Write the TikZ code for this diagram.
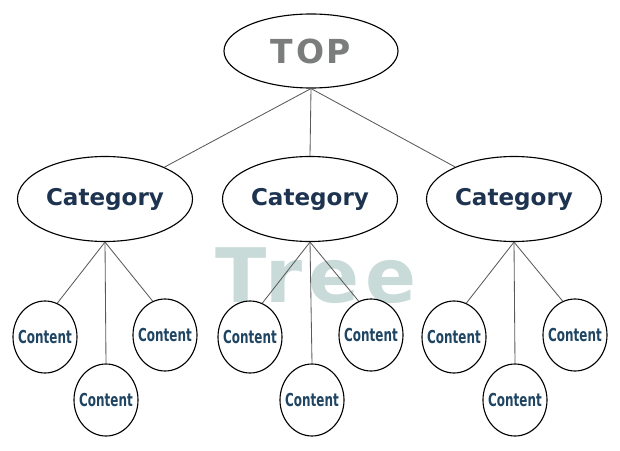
\documentclass[tikz,border=0pt]{standalone}
\usepackage{fontspec}
\usetikzlibrary{shapes.geometric}
\setmainfont{DejaVu Sans}
\newfontfamily\spacedfont{DejaVu Sans}[LetterSpace=8]
\newfontfamily\narrowfont{DejaVu Sans}[FakeStretch=0.67]
\definecolor{topgray}{HTML}{7A7D7B}
\definecolor{catnavy}{HTML}{1D3350}
\definecolor{cntnavy}{HTML}{1F4563}
\definecolor{treetint}{HTML}{C9DBD9}
\definecolor{linkgray}{HTML}{5A5A5A}
\begin{document}
\begin{tikzpicture}[
        every node/.style={font=\bfseries},
        topnode/.style={ellipse, draw=black, line width=0.8pt, inner sep=0pt, minimum width=4.35cm, minimum height=1.85cm, text=topgray, font=\spacedfont\bfseries\fontsize{23.5}{28}\selectfont},
        catnode/.style={ellipse, draw=black, line width=0.8pt, inner sep=0pt, minimum width=4.375cm, minimum height=2.125cm, text=catnavy, font=\bfseries\fontsize{16.4}{20}\selectfont},
        cntnode/.style={ellipse, draw=black, line width=0.8pt, inner xsep=-6pt, inner ysep=0pt, minimum width=1.6cm, minimum height=1.8cm, text=cntnavy, font=\narrowfont\bfseries\fontsize{12.7}{15}\selectfont},
        link/.style={draw=linkgray, line width=0.6pt}
        ]
        \useasboundingbox (0,0) rectangle (15.5,11.25);

        % watermark behind everything
        \node[anchor=base, text=treetint, font=\spacedfont\bfseries\fontsize{53.5}{60}\selectfont] (tree) at (7.9, 3.7) {Tree};

        \node[topnode] (top) at (7.775, 9.975) {TOP};

        \node[catnode] (cat1) at (2.625, 6.275) {Category};
        \node[catnode] (cat2) at (7.75, 6.275) {Category};
        \node[catnode] (cat3) at (12.85, 6.275) {Category};

        \node[cntnode] (c11) at (1.125, 2.825) {Content};
        \node[cntnode] (c12) at (2.65, 1.25) {Content};
        \node[cntnode] (c13) at (4.125, 2.875) {Content};

        \node[cntnode] (c21) at (6.25, 2.825) {Content};
        \node[cntnode] (c22) at (7.8, 1.25) {Content};
        \node[cntnode] (c23) at (9.275, 2.875) {Content};

        \node[cntnode] (c31) at (11.35, 2.825) {Content};
        \node[cntnode] (c32) at (12.875, 1.25) {Content};
        \node[cntnode] (c33) at (14.375, 2.875) {Content};

        \draw[link] (top.south) -- (cat1);
        \draw[link] (top.south) -- (cat2.north);
        \draw[link] (top.south) -- (cat3);

        \draw[link] (cat1.south) -- (c11.70);
        \draw[link] (cat1.south) -- (c12.north);
        \draw[link] (cat1.south) -- (c13.110);

        \draw[link] (cat2.south) -- (c21.70);
        \draw[link] (cat2.south) -- (c22.north);
        \draw[link] (cat2.south) -- (c23.110);

        \draw[link] (cat3.south) -- (c31.70);
        \draw[link] (cat3.south) -- (c32.north);
        \draw[link] (cat3.south) -- (c33.110);

    \end{tikzpicture}
\end{document}
